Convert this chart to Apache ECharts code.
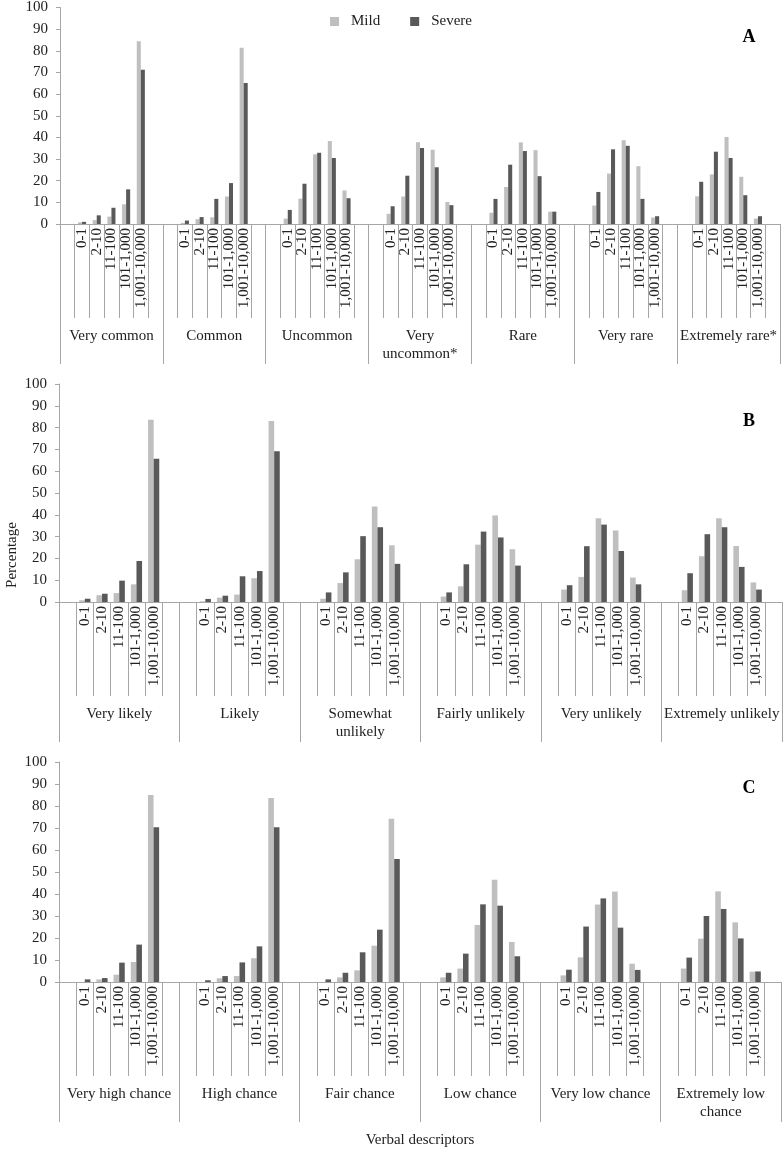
<!DOCTYPE html>
<html>
<head>
<meta charset="utf-8">
<script src="https://cdn.jsdelivr.net/npm/echarts@6/dist/echarts.min.js"></script>
<style>
html,body{margin:0;padding:0;background:#fff;}
#chart{width:783px;height:1155px;}
</style>
</head>
<body>
<div id="chart"></div>
<script>
// ---- Data ----
const subCats = ['0-1', '2-10', '11-100', '101-1,000', '1,001-10,000'];
const yTicks = [0, 10, 20, 30, 40, 50, 60, 70, 80, 90, 100];
const seriesNames = ['Mild', 'Severe'];

const groupsA = ['Very common', 'Common', 'Uncommon', 'Very\nuncommon*', 'Rare', 'Very rare', 'Extremely rare*'];
const mildA = [
  0.8, 1.8, 3.4, 9.1, 84.4,
  0.5, 2.2, 3.1, 12.7, 81.4,
  2.5, 11.7, 32.2, 38.3, 15.5,
  4.7, 12.7, 37.8, 34.3, 10.2,
  5.2, 17.1, 37.7, 34.1, 5.7,
  8.5, 23.3, 38.7, 26.7, 3.0,
  12.8, 22.9, 40.2, 21.8, 2.5
];
const severeA = [
  1.0, 4.0, 7.5, 16.0, 71.2,
  1.6, 3.2, 11.6, 18.9, 65.1,
  6.5, 18.6, 32.9, 30.5, 11.9,
  8.2, 22.3, 35.1, 26.2, 8.7,
  11.6, 27.4, 33.7, 22.1, 5.7,
  14.8, 34.5, 36.1, 11.6, 3.6,
  19.5, 33.4, 30.5, 13.3, 3.6
];

const groupsB = ['Very likely', 'Likely', 'Somewhat\nunlikely', 'Fairly unlikely', 'Very unlikely', 'Extremely unlikely'];
const mildB = [
  0.8, 3.1, 4.1, 8.1, 83.6,
  0.3, 2.0, 3.4, 10.9, 83.0,
  1.5, 8.7, 19.6, 43.8, 26.0,
  2.5, 7.2, 26.3, 39.7, 24.2,
  5.7, 11.5, 38.4, 32.8, 11.2,
  5.4, 21.0, 38.4, 25.7, 9.0
];
const severeB = [
  1.5, 3.8, 9.8, 18.8, 65.7,
  1.4, 2.9, 11.8, 14.2, 69.2,
  4.4, 13.6, 30.2, 34.3, 17.5,
  4.4, 17.3, 32.3, 29.6, 16.7,
  7.7, 25.6, 35.5, 23.4, 8.1,
  13.2, 31.1, 34.3, 16.1, 5.7
];

const groupsC = ['Very high chance', 'High chance', 'Fair chance', 'Low chance', 'Very low chance', 'Extremely low\nchance'];
const mildC = [
  0.0, 1.2, 3.3, 9.1, 85.0,
  0.0, 1.7, 2.7, 10.8, 83.6,
  0.0, 2.1, 5.3, 16.5, 74.2,
  2.1, 6.1, 25.9, 46.5, 18.2,
  3.0, 11.2, 35.2, 41.1, 8.3,
  6.1, 19.7, 41.2, 27.1, 4.7
];
const severeC = [
  1.2, 1.8, 8.8, 17.0, 70.3,
  0.8, 2.7, 8.9, 16.2, 70.3,
  1.2, 4.2, 13.5, 23.8, 55.9,
  4.2, 12.9, 35.3, 34.7, 11.7,
  5.6, 25.2, 38.0, 24.7, 5.5,
  11.1, 30.0, 33.2, 19.8, 4.8
];
const panelLetters = ['A', 'B', 'C'];
const yAxisTitle = 'Percentage';
const xAxisTitle = 'Verbal descriptors';

// ---- Build ----
// each group: blank slot, 5 sub-categories, blank slot (as in the original multi-level axis)
function slotValues(vals) {
  const out = [];
  for (let g = 0; g < vals.length / subCats.length; g++) {
    out.push(null);
    for (let k = 0; k < subCats.length; k++) out.push(vals[g * subCats.length + k]);
    out.push(null);
  }
  return out;
}
function slotLabels(nGroups) {
  const out = [];
  for (let g = 0; g < nGroups; g++) out.push('', ...subCats, '');
  return out;
}

const FONT = '"Liberation Serif", "Times New Roman", serif';
const LINE = '#a6a6a6';
const TXT = '#222';
const MILD = '#bfbfbf';
const SEVERE = '#595959';

const panels = [
  { groups: groupsA, mild: mildA, severe: severeA, left: 60, top: 6, width: 720, height: 218, gap: '45%', letterY: 37 },
  { groups: groupsB, mild: mildB, severe: severeB, left: 59, top: 384, width: 723, height: 218, gap: '35%', letterY: 421 },
  { groups: groupsC, mild: mildC, severe: severeC, left: 59, top: 762, width: 722, height: 220, gap: '35%', letterY: 788 }
];

const grid = [], xAxis = [], yAxis = [], series = [], graphic = [];
panels.forEach((p, i) => {
  grid.push({ left: p.left, top: p.top, width: p.width, height: p.height });
  xAxis.push({
    gridIndex: i, type: 'category', data: slotLabels(p.groups.length),
    position: 'bottom', offset: 0,
    axisLine: { show: true, onZero: false, lineStyle: { color: LINE, width: 1 } },
    axisTick: { show: true, interval: 0, length: 94, lineStyle: { color: LINE } },
    axisLabel: { interval: 0, rotate: 90, margin: 4, fontSize: 15, color: TXT, fontFamily: FONT }
  });
  xAxis.push({
    gridIndex: i, type: 'category', data: p.groups,
    position: 'bottom', offset: 0,
    axisLine: { show: false },
    axisTick: { show: true, interval: 0, length: 140, lineStyle: { color: LINE } },
    axisLabel: { interval: 0, margin: 103, fontSize: 15, lineHeight: 18, color: TXT, fontFamily: FONT }
  });
  yAxis.push({
    gridIndex: i, type: 'value', min: yTicks[0], max: yTicks[yTicks.length - 1],
    interval: yTicks[1] - yTicks[0],
    axisLine: { show: true, lineStyle: { color: LINE } },
    axisTick: { show: true, length: 4, lineStyle: { color: LINE } },
    splitLine: { show: false },
    axisLabel: { fontSize: 15, color: TXT, margin: 12, fontFamily: FONT }
  });
  [[seriesNames[0], p.mild, MILD], [seriesNames[1], p.severe, SEVERE]].forEach(([name, vals, col]) => {
    series.push({
      name, type: 'bar', xAxisIndex: 2 * i, yAxisIndex: i,
      data: slotValues(vals), barGap: '0%', barCategoryGap: p.gap,
      itemStyle: { color: col }
    });
  });
  graphic.push({
    type: 'text', x: 749, y: p.letterY,
    style: { text: panelLetters[i], font: 'bold 18px ' + FONT, fill: '#000', align: 'center', verticalAlign: 'middle' }
  });
});
graphic.push({
  type: 'text', x: 12, y: 555, rotation: Math.PI / 2,
  style: { text: yAxisTitle, font: '15px ' + FONT, fill: TXT, align: 'center', verticalAlign: 'middle' }
});
graphic.push({
  type: 'text', x: 420, y: 1140,
  style: { text: xAxisTitle, font: '15px ' + FONT, fill: TXT, align: 'center', verticalAlign: 'middle' }
});

const chart = echarts.init(document.getElementById('chart'), null, { renderer: 'canvas' });
chart.setOption({
  animation: false,
  backgroundColor: '#fff',
  textStyle: { fontFamily: FONT },
  legend: {
    data: seriesNames, left: 325, top: 9, icon: 'rect', itemWidth: 9, itemHeight: 9, itemGap: 30,
    textStyle: { fontSize: 15, color: TXT, fontFamily: FONT, padding: [0, 0, 0, 7] }
  },
  grid, xAxis, yAxis, series, graphic
});
</script>
</body>
</html>
